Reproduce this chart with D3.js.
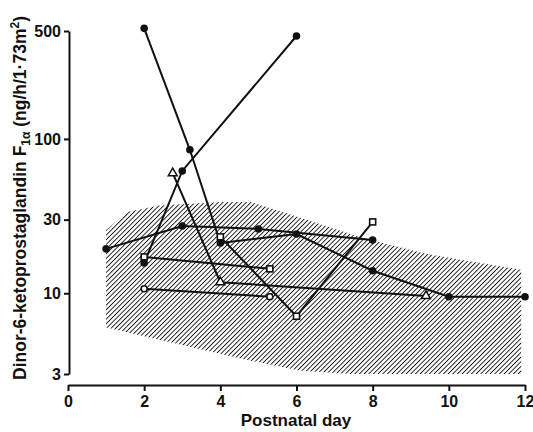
<!DOCTYPE html>
<html>
<head>
<meta charset="utf-8">
<script src="https://cdn.jsdelivr.net/npm/d3@7"></script>
<style>
  body { margin: 0; background: #fff; }
  svg text { font-family: "Liberation Sans", Arial, sans-serif; font-weight: bold; fill: #111; }
</style>
</head>
<body>
<script>
var w = 533, h = 432;

var xTicks = [0, 2, 4, 6, 8, 10, 12];
var yTicks = [3, 10, 30, 100, 500];

// hatched normal range
var bandUpperDay = [1, 1.55, 2.4, 4, 4.8, 5.9, 7.7, 9.4, 11.9];
var bandUpperVal = [25.7, 33.6, 37, 39, 39, 32, 23, 18, 14.2];
var bandLowerDay = [1, 2.4, 4.7, 6.1, 7.4, 11.9];
var bandLowerVal = [6, 5, 3.7, 3.15, 3.0, 3.0];

// individual infants
var s1Day = [1, 3, 5, 8],                 s1Val = [19.4, 27.3, 26.1, 22.1];
var s2Day = [2, 3.2, 4, 6, 8, 10, 12],    s2Val = [520, 85, 21.2, 24.2, 14, 9.5, 9.5];
var s3Day = [2, 3, 6],                    s3Val = [15.7, 62, 464];
var s4Day = [2.75, 4, 9.4],               s4Val = [60, 11.8, 9.6];
var s5Day = [4, 6, 8],                    s5Val = [23.2, 7.1, 29];
var s6Day = [2, 5.3],                     s6Val = [17.2, 14.4];
var s7Day = [2, 5.3],                     s7Val = [10.7, 9.5];

var series = [
  { day: s6Day, val: s6Val, sym: "opensquare" },
  { day: s7Day, val: s7Val, sym: "opencircle" },
  { day: s5Day, val: s5Val, sym: "opensquare" },
  { day: s4Day, val: s4Val, sym: "triangle" },
  { day: s1Day, val: s1Val, sym: "filled" },
  { day: s3Day, val: s3Val, sym: "filled" },
  { day: s2Day, val: s2Val, sym: "filled" }
];

var x = d3.scaleLinear().domain([0, 12]).range([68, 525]);
var y = d3.scaleLog().domain([3, 500]).range([374, 31]);

var svg = d3.select("body").append("svg")
  .attr("width", w)
  .attr("height", h);

var defs = svg.append("defs");
var pat = defs.append("pattern")
  .attr("id", "hatch")
  .attr("patternUnits", "userSpaceOnUse")
  .attr("width", 3.3)
  .attr("height", 3.3)
  .attr("patternTransform", "rotate(45)");
pat.append("line")
  .attr("x1", 0).attr("y1", 0)
  .attr("x2", 0).attr("y2", 3.3)
  .attr("stroke", "#111")
  .attr("stroke-width", 1.8);

// band polygon: upper edge left->right then lower edge right->left
var bandPts = [];
bandUpperDay.forEach(function(d, i) { bandPts.push([x(d), y(bandUpperVal[i])]); });
for (var i = bandLowerDay.length - 1; i >= 0; i--) {
  bandPts.push([x(bandLowerDay[i]), y(bandLowerVal[i])]);
}
svg.append("path")
  .attr("d", d3.line().curve(d3.curveLinearClosed)(bandPts))
  .attr("fill", "url(#hatch)");

// axes
var yAxis = d3.axisLeft(y)
  .tickValues(yTicks)
  .tickFormat(d3.format("d"))
  .tickSize(5)
  .tickSizeOuter(0)
  .tickPadding(3);

var xAxis = d3.axisBottom(x)
  .tickValues(xTicks)
  .tickSize(6)
  .tickSizeOuter(0)
  .tickPadding(5);

var gy = svg.append("g")
  .attr("transform", "translate(69,0)")
  .call(yAxis);

var gx = svg.append("g")
  .attr("transform", "translate(0,385)")
  .call(xAxis);

svg.selectAll(".domain, .tick line")
  .attr("stroke", "#111")
  .attr("stroke-width", 2);
svg.selectAll(".tick text")
  .style("font-size", "16px");

svg.append("text")
  .attr("x", 296)
  .attr("y", 426)
  .attr("text-anchor", "middle")
  .style("font-size", "17px")
  .text("Postnatal day");

var yl = svg.append("text")
  .attr("transform", "translate(26,198) rotate(-90)")
  .attr("text-anchor", "middle")
  .style("font-size", "17.5px");
yl.append("tspan").text("Dinor-6-ketoprostaglandin F");
yl.append("tspan").attr("dy", 4).style("font-size", "12px").text("1\u03b1");
yl.append("tspan").attr("dy", -4).text(" (ng/h/1\u00b773m");
yl.append("tspan").attr("dy", -7).style("font-size", "12px").text("2");
yl.append("tspan").attr("dy", 7).text(")");

// lines and markers
var line = d3.line()
  .x(function(d) { return x(d[0]); })
  .y(function(d) { return y(d[1]); });

series.forEach(function(s) {
  var pts = s.day.map(function(d, i) { return [d, s.val[i]]; });
  svg.append("path")
    .attr("d", line(pts))
    .attr("fill", "none")
    .attr("stroke", "#111")
    .attr("stroke-width", 2);
});

series.forEach(function(s) {
  s.day.forEach(function(d, i) {
    var cx = x(d), cy = y(s.val[i]);
    if (s.sym === "filled") {
      svg.append("circle").attr("cx", cx).attr("cy", cy).attr("r", 3.8)
        .attr("fill", "#111");
    } else if (s.sym === "opencircle") {
      svg.append("circle").attr("cx", cx).attr("cy", cy).attr("r", 3)
        .attr("fill", "#fff").attr("stroke", "#111").attr("stroke-width", 1.6);
    } else if (s.sym === "opensquare") {
      svg.append("rect").attr("x", cx - 3).attr("y", cy - 3)
        .attr("width", 6).attr("height", 6)
        .attr("fill", "#fff").attr("stroke", "#111").attr("stroke-width", 1.6);
    } else {
      svg.append("path")
        .attr("d", d3.symbol().type(d3.symbolTriangle).size(34)())
        .attr("transform", "translate(" + cx + "," + cy + ")")
        .attr("fill", "#fff").attr("stroke", "#111").attr("stroke-width", 1.5);
    }
  });
});
</script>
</body>
</html>
